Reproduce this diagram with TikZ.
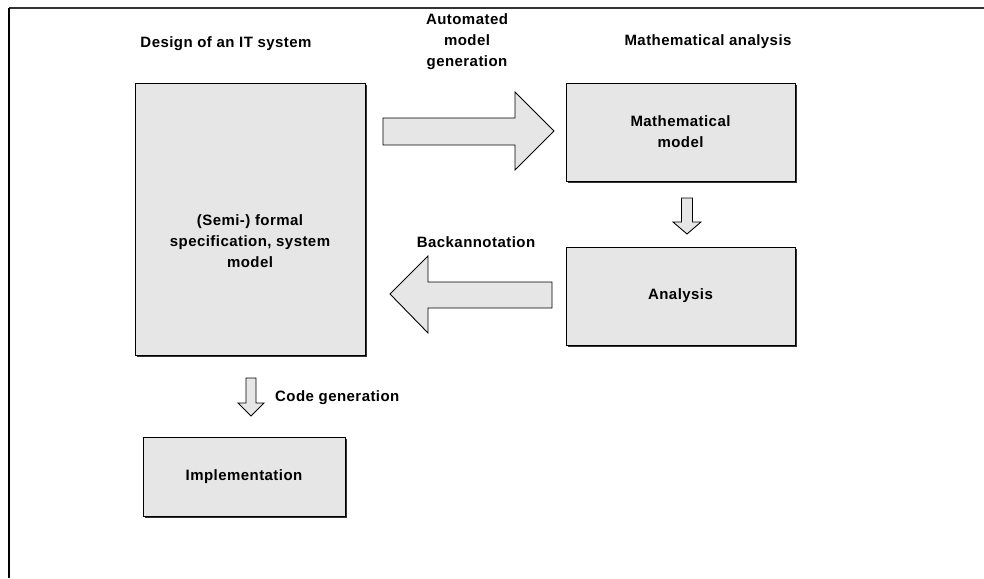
\documentclass[tikz,border=0pt]{standalone}
\usepackage{fontspec}
\setmainfont[LetterSpace=3]{Liberation Sans}
\usepackage{tikz}
\usetikzlibrary{shadows}
\usepackage{xcolor}
\definecolor{boxgray}{RGB}{230,230,230}
\definecolor{framegray}{RGB}{51,51,51}
\tikzset{
  textfont/.style={font=\fontsize{15}{21}\selectfont\bfseries},
  blockbox/.style={draw=black, line width=0.9pt, fill=boxgray, inner sep=0pt,
    align=center, textfont,
    drop shadow={shadow xshift=1.6pt, shadow yshift=-1.6pt, fill=black!80, opacity=1}},
  blockarrow/.style={draw=black, line width=0.9pt, fill=boxgray, line join=miter},
  label/.style={textfont, align=center, inner sep=0pt}
}

\begin{document}
\begin{tikzpicture}[x=1pt,y=-1pt]
\useasboundingbox (0,0) rectangle (984,578);

% Frame
\draw[framegray, line width=2.5pt] (9,8) -- (984,8);
\draw[black, line width=1.4pt] (9,8) -- (9,578);

% Boxes
\node[blockbox, minimum width=230pt, minimum height=272pt] (spec) at (250,219) {};
\node[label] (spectext) at (250,241) {(Semi-) formal\\specification, system\\model};
\node[blockbox, minimum width=229pt, minimum height=98pt] (mathmodel) at (680.5,132)
  {Mathematical\\model};
\node[blockbox, minimum width=229pt, minimum height=98pt] (analysis) at (680.5,296)
  {Analysis};
\node[blockbox, minimum width=202pt, minimum height=79pt] (impl) at (244,476.5)
  {Implementation};

% Headings
\node[label] (design) at (226,44) {Design of an IT system};
\node[label] (mathana) at (708,42) {Mathematical analysis};

% Block arrows
\draw[blockarrow] (383,118) -- (515,118) -- (515,92) -- (554,131)
  -- (515,170) -- (515,145) -- (383,145) -- cycle;
\draw[blockarrow] (552,282) -- (428,282) -- (428,256) -- (390,294)
  -- (428,333) -- (428,308) -- (552,308) -- cycle;
\draw[blockarrow] (681.5,198) -- (692.5,198) -- (692.5,222) -- (701,222)
  -- (687,234) -- (673,222) -- (681.5,222) -- cycle;
\draw[blockarrow] (246,378) -- (256,378) -- (256,403) -- (264,403)
  -- (251,416) -- (238,403) -- (246,403) -- cycle;

% Arrow labels
\node[label] (autogen) at (467,42) {Automated\\model\\generation};
\node[label] (backann) at (476,242) {Backannotation};
\node[label, anchor=west] (codegen) at (275,398) {Code generation};
\end{tikzpicture}
\end{document}
